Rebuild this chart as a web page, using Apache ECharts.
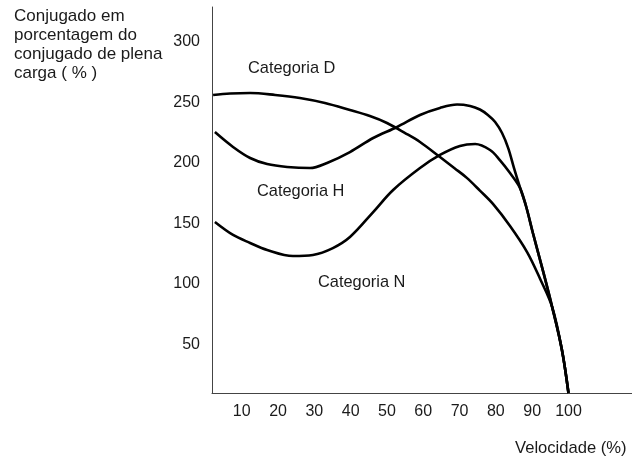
<!DOCTYPE html>
<html>
<head>
<meta charset="utf-8">
<script src="https://cdn.jsdelivr.net/npm/echarts@6/dist/echarts.min.js"></script>
<style>
  html, body { margin: 0; padding: 0; background: #fff; }
  #chart { width: 632px; height: 459px; }
</style>
</head>
<body>
<div id="chart"></div>
<script>
// Torque (% of full-load torque) against speed (% of synchronous speed)
const categoryNames = ['Categoria D', 'Categoria H', 'Categoria N'];

const speedD = [2.1, 6.8, 12.3, 19.2, 26.0, 32.9, 39.8, 45.3, 50.0, 55.0, 59.1, 64.6, 68.7, 72.0, 75.6, 79.2, 83.9, 88.6, 92.2, 95.5, 98.2, 100];
const torqueD = [255.9, 257.1, 257.5, 255.9, 253.4, 249.3, 243.5, 238.5, 232.8, 224.5, 217.1, 204.7, 195.3, 187.5, 177.0, 166.0, 147.8, 126.3, 104.1, 81.0, 45.5, 10];

const speedH = [2.6, 7.6, 12.3, 17.0, 22.5, 28.8, 33.5, 39.8, 46.2, 52.8, 59.1, 64.6, 69.3, 72.9, 75.6, 77.8, 79.8, 81.7, 83.4, 85.0, 86.6, 88.3, 90.2, 93.0, 95.5, 98.2, 100];
const torqueH = [225.3, 213.0, 203.9, 198.9, 196.5, 195.6, 199.8, 208.8, 220.4, 229.5, 239.4, 245.2, 248.0, 246.8, 243.9, 239.4, 233.6, 224.5, 212.1, 195.6, 180.0, 164.3, 142.0, 110.5, 81.0, 45.5, 10];

const speedN = [2.6, 7.6, 12.3, 17.0, 24.1, 29.6, 35.1, 39.8, 46.2, 51.7, 59.1, 64.6, 70.1, 74.3, 78.4, 81.1, 83.9, 86.6, 88.3, 90.2, 93.0, 95.5, 98.2, 100];
const torqueN = [151.1, 140.4, 133.8, 128.0, 123.0, 123.9, 129.6, 138.7, 159.3, 177.5, 195.6, 206.4, 213.8, 215.4, 210.5, 202.2, 191.5, 179.5, 164.3, 142.0, 110.5, 81.0, 45.5, 10];

const speedTicks = [10, 20, 30, 40, 50, 60, 70, 80, 90, 100];
const torqueTicks = [50, 100, 150, 200, 250, 300];

const yAxisTitle = 'Conjugado em\nporcentagem do\nconjugado de plena\ncarga ( % )';
const xAxisTitle = 'Velocidade (%)';

function pairs(xs, ys) {
  return xs.map((x, i) => [x, ys[i]]);
}

const FONT = '"Liberation Sans", Arial, sans-serif';
const TEXT = '#1a1a1a';

const chart = echarts.init(document.getElementById('chart'), null, { renderer: 'canvas' });

const curveStyle = { color: '#000', width: 2.6 };

function curve(name, xs, ys) {
  return {
    name: name,
    type: 'line',
    data: pairs(xs, ys),
    smooth: 0.35,
    showSymbol: false,
    lineStyle: curveStyle
  };
}

chart.setOption({
  animation: false,
  backgroundColor: '#fff',
  grid: { left: 212, right: 0, top: 7, bottom: 66, containLabel: false },
  xAxis: {
    type: 'value',
    min: 1.8,
    max: 117.5,
    axisLine: { show: true, onZero: false, lineStyle: { color: '#444', width: 1 } },
    axisTick: { show: false },
    splitLine: { show: false },
    axisLabel: {
      customValues: speedTicks,
      color: TEXT,
      fontFamily: FONT,
      fontSize: 16,
      margin: 11
    }
  },
  yAxis: {
    type: 'value',
    min: 10,
    max: 328.5,
    axisLine: { show: true, onZero: false, lineStyle: { color: '#444', width: 1 } },
    axisTick: { show: false },
    splitLine: { show: false },
    axisLabel: {
      customValues: torqueTicks,
      color: TEXT,
      fontFamily: FONT,
      fontSize: 16,
      margin: 12
    }
  },
  series: [
    curve(categoryNames[0], speedD, torqueD),
    curve(categoryNames[1], speedH, torqueH),
    curve(categoryNames[2], speedN, torqueN)
  ],
  graphic: [
    { type: 'text', left: 14, top: 7, style: { text: yAxisTitle, fill: TEXT, font: '17px ' + FONT, lineHeight: 19 } },
    { type: 'text', left: 515, top: 440, style: { text: xAxisTitle, fill: TEXT, font: '16.6px ' + FONT } },
    { type: 'text', left: 248, top: 60, style: { text: categoryNames[0], fill: TEXT, font: '16.4px ' + FONT } },
    { type: 'text', left: 257, top: 183, style: { text: categoryNames[1], fill: TEXT, font: '16.4px ' + FONT } },
    { type: 'text', left: 318, top: 274, style: { text: categoryNames[2], fill: TEXT, font: '16.4px ' + FONT } }
  ]
});
</script>
</body>
</html>
